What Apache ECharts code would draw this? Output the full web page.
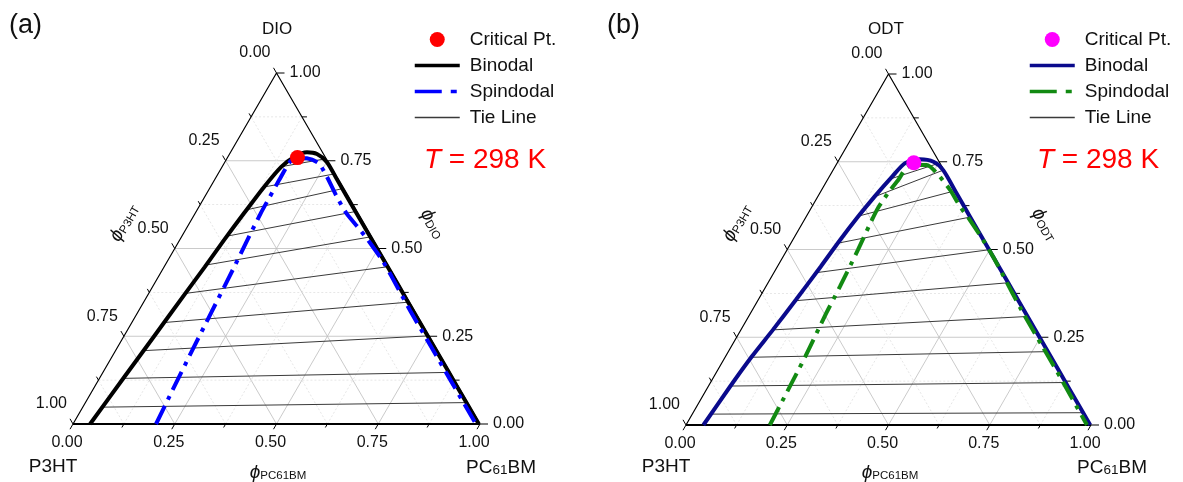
<!DOCTYPE html>
<html><head><meta charset="utf-8">
<script src="https://cdn.jsdelivr.net/npm/echarts@6/dist/echarts.min.js"></script>
<style>html,body{margin:0;padding:0;background:#fff}#c{width:1183px;height:482px}</style>
</head><body><div id="c"></div>
<script>
// ---------- axis ticks ----------
const axisTickValues = [0, 0.25, 0.5, 0.75, 1];
const axisTickLabels = ['0.00', '0.25', '0.50', '0.75', '1.00'];
const minorTickValues = [0.125, 0.375, 0.625, 0.875];

// ---------- panel (a): P3HT / PC61BM / DIO ----------  values are [phi_PC61BM, phi_DIO]
const aBinodalPC  = [0.042,0.059,0.074,0.090,0.100,0.109,0.120,0.131,0.145,0.163,0.188,0.215,0.251,0.300,0.397,0.497,0.597,0.697,0.797,0.897,0.997];
const aBinodalDIO = [0,    0.134,0.248,0.373,0.447,0.524,0.601,0.672,0.732,0.761,0.774,0.769,0.746,0.697,0.600,0.500,0.400,0.300,0.200,0.100,0];
const aSpinPC  = [0.204,0.197,0.188,0.181,0.173,0.167,0.161,0.160,0.159,0.159,0.167,0.196,0.232,0.271,0.324,0.372,0.429,0.473,0.526,0.573,0.665,0.765,0.865,0.990];
const aSpinDIO = [0,    0.088,0.211,0.316,0.439,0.516,0.601,0.644,0.695,0.744,0.758,0.757,0.743,0.705,0.648,0.600,0.553,0.515,0.467,0.420,0.325,0.225,0.125,0];
const aTieLeftPC   = [0.048,0.059,0.069,0.079,0.090,0.101,0.110,0.121,0.131,0.145];
const aTieLeftDIO  = [0.048,0.130,0.209,0.289,0.372,0.453,0.535,0.610,0.675,0.733];
const aTieRightPC  = [0.936,0.850,0.746,0.650,0.549,0.464,0.390,0.325,0.284,0.240];
const aTieRightDIO = [0.061,0.147,0.251,0.347,0.448,0.533,0.605,0.670,0.712,0.755];
const aCritical = [0.172, 0.759];

// ---------- panel (b): P3HT / PC61BM / ODT ----------  values are [phi_PC61BM, phi_ODT]
const bBinodalPC  = [0.043,0.054,0.065,0.079,0.093,0.107,0.117,0.128,0.140,0.155,0.168,0.199,0.236,0.272,0.338,0.398,0.498,0.598,0.698,0.798,0.898,0.998];
const bBinodalODT = [0,    0.109,0.195,0.271,0.356,0.451,0.527,0.593,0.650,0.707,0.746,0.757,0.750,0.726,0.660,0.600,0.500,0.400,0.300,0.200,0.100,0];
const bSpinPC  = [0.207,0.204,0.197,0.187,0.183,0.175,0.165,0.169,0.175,0.180,0.224,0.261,0.317,0.366,0.409,0.470,0.518,0.573,0.667,0.767,0.867,0.990];
const bSpinODT = [0,    0.062,0.195,0.318,0.394,0.499,0.613,0.665,0.698,0.736,0.741,0.717,0.670,0.622,0.584,0.527,0.480,0.423,0.325,0.225,0.125,0];
const bTieLeftPC   = [0.046,0.054,0.065,0.079,0.093,0.105,0.116,0.128,0.140,0.152];
const bTieLeftODT  = [0.031,0.111,0.193,0.271,0.354,0.434,0.518,0.595,0.650,0.700];
const bTieRightPC  = [0.960,0.874,0.786,0.686,0.590,0.497,0.404,0.330,0.272,0.250];
const bTieRightODT = [0.035,0.121,0.209,0.309,0.405,0.499,0.592,0.667,0.726,0.745];
const bCritical = [0.189, 0.747];

const FONT = '"Liberation Sans", Arial, Helvetica, sans-serif';

// ternary (phi_PC, phi_top) -> cartesian (x, y) in data space
const tern = (c, d) => [c + d / 2, d];
const curve = (cs, ds) => cs.map((c, i) => tern(c, ds[i]));

const tickData = axisTickValues.map(v => [v, 1]).concat(minorTickValues.map(v => [v, 0]));

function axesSeries(gi) {
  return {
    type: 'custom', xAxisIndex: gi, yAxisIndex: gi, silent: true, z: 1,
    clip: false, data: tickData,
    renderItem: function (params, api) {
      const v = api.value(0), major = api.value(1) === 1;
      const P = (c, d) => api.coord(tern(c, d));
      const ch = [];
      if (v > 0 && v < 1) {
        const st = major ? { stroke: '#bdbdbd', lineWidth: 0.8 }
                         : { stroke: '#e0e0e0', lineWidth: 0.8, lineDash: [2, 2] };
        [[P(0, v), P(1 - v, v)], [P(v, 0), P(v, 1 - v)], [P(1 - v, 0), P(0, 1 - v)]].forEach(s => {
          ch.push({ type: 'line', shape: { x1: s[0][0], y1: s[0][1], x2: s[1][0], y2: s[1][1] }, style: st });
        });
      }
      const len = major ? 6 : 4, rlen = major ? 8 : 5;
      const b = P(v, 0), r = P(1 - v, v), l = P(0, 1 - v);
      const tst = { stroke: '#000', lineWidth: 1 };
      ch.push({ type: 'line', shape: { x1: b[0], y1: b[1], x2: b[0] - 0.5 * len, y2: b[1] + 0.866 * len }, style: tst });
      ch.push({ type: 'line', shape: { x1: r[0], y1: r[1], x2: r[0] + rlen, y2: r[1] }, style: tst });
      ch.push({ type: 'line', shape: { x1: l[0], y1: l[1], x2: l[0] - 0.5 * len, y2: l[1] - 0.866 * len }, style: tst });
      if (major) {
        const txt = axisTickLabels[axisTickValues.indexOf(v)];
        const ts = (o) => Object.assign({ text: txt, fill: '#111', fontSize: 16, fontFamily: FONT, verticalAlign: 'middle' }, o);
        ch.push({ type: 'text', x: b[0] - 6, y: b[1] + 19, style: ts({ align: 'center' }) });
        ch.push({ type: 'text', x: r[0] + 13, y: r[1], style: ts({ align: 'left' }) });
        ch.push({ type: 'text', x: l[0] - 6, y: l[1] - 20, style: ts({ align: 'right' }) });
      }
      return { type: 'group', children: ch };
    }
  };
}

function frameSeries(gi) {
  return [
    { type: 'line', xAxisIndex: gi, yAxisIndex: gi, silent: true, z: 2, symbol: 'none',
      data: [tern(0, 0), tern(0, 1), tern(1, 0)], lineStyle: { color: '#000', width: 1.2 } },
    { type: 'line', xAxisIndex: gi, yAxisIndex: gi, silent: true, z: 2, symbol: 'none',
      data: [tern(0, 0), tern(1, 0)], lineStyle: { color: '#000', width: 2 } }
  ];
}

function panelSeries(gi, suffix, binC, binD, spC, spD, tlC, tlD, trC, trD, crit, colBin, colSp, colCrit) {
  const s = [axesSeries(gi)].concat(frameSeries(gi));
  tlC.forEach((c, i) => {
    s.push({ type: 'line', name: 'Tie Line' + suffix, xAxisIndex: gi, yAxisIndex: gi, z: 3, symbol: 'none', silent: true,
      data: [tern(c, tlD[i]), tern(trC[i], trD[i])], lineStyle: { color: '#3a3a3a', width: 1 }, itemStyle: { color: '#3a3a3a' } });
  });
  s.push({ type: 'line', name: 'Binodal' + suffix, xAxisIndex: gi, yAxisIndex: gi, z: 4, symbol: 'none', smooth: 0.25, silent: true,
    data: curve(binC, binD), lineStyle: { color: colBin, width: 4 }, itemStyle: { color: colBin } });
  s.push({ type: 'line', name: 'Spindodal' + suffix, xAxisIndex: gi, yAxisIndex: gi, z: 5, symbol: 'none', smooth: 0.25, silent: true,
    data: curve(spC, spD), lineStyle: { color: colSp, width: 4, type: [20, 7, 4, 7] }, itemStyle: { color: colSp } });
  s.push({ type: 'scatter', name: 'Critical Pt.' + suffix, xAxisIndex: gi, yAxisIndex: gi, z: 6, symbolSize: 15, silent: true,
    data: [tern(crit[0], crit[1])], itemStyle: { color: colCrit, opacity: 1 } });
  return s;
}

const series = [].concat(
  panelSeries(0, '', aBinodalPC, aBinodalDIO, aSpinPC, aSpinDIO, aTieLeftPC, aTieLeftDIO, aTieRightPC, aTieRightDIO, aCritical, '#000000', '#0000ff', '#ff0000'),
  panelSeries(1, '#b', bBinodalPC, bBinodalODT, bSpinPC, bSpinODT, bTieLeftPC, bTieLeftODT, bTieRightPC, bTieRightODT, bCritical, '#0a0a8c', '#128a12', '#ff00ff')
);

function legendFor(left, suffix) {
  const hideSym = { opacity: 0 };
  return {
    left: left, top: 30, padding: 0, orient: 'vertical', itemWidth: 45, itemHeight: 15, itemGap: 7,
    selectedMode: false,
    data: [
      { name: 'Critical Pt.' + suffix },
      { name: 'Binodal' + suffix, itemStyle: hideSym, lineStyle: { width: 3.5 } },
      { name: 'Spindodal' + suffix, itemStyle: hideSym, lineStyle: { width: 3.5, type: [27, 9, 6, 20] } },
      { name: 'Tie Line' + suffix, itemStyle: hideSym, lineStyle: { width: 1.6 } }
    ],
    formatter: n => n.split('#')[0],
    textStyle: { fontSize: 19, fontFamily: FONT, color: '#111', padding: [0, 0, 0, 5] }
  };
}

const txt = (x, y, text, size, extra) => ({ type: 'text', x: x, y: y, silent: true, z: 10,
  style: Object.assign({ text: text, fontSize: size, fontFamily: FONT, fill: '#111', align: 'center', verticalAlign: 'middle' }, extra || {}) });

const phiRich = { p: { fontSize: 19, fontStyle: 'italic', fontFamily: FONT, fill: '#111', lineHeight: 22, verticalAlign: 'bottom' },
                  s: { fontSize: 11.5, fontFamily: FONT, fill: '#111', lineHeight: 13, verticalAlign: 'bottom' } };
const pcRich = { n: { fontSize: 19, fontFamily: FONT, fill: '#111', lineHeight: 20, verticalAlign: 'bottom' },
                 m: { fontSize: 13.5, fontFamily: FONT, fill: '#111', lineHeight: 15, verticalAlign: 'bottom' } };
const tRich = { i: { fontSize: 28, fontStyle: 'italic', fontFamily: FONT, fill: '#ff0000' },
                r: { fontSize: 28, fontFamily: FONT, fill: '#ff0000' } };

const graphics = [
  txt(9, 26, '(a)', 27, { align: 'left' }),
  txt(607, 26, '(b)', 27, { align: 'left' }),
  txt(277, 29, 'DIO', 17),
  txt(886, 29, 'ODT', 17),
  txt(53, 467, 'P3HT', 19),
  txt(666, 467, 'P3HT', 19),
  txt(501, 467, '{n|PC}{m|61}{n|BM}', 19, { rich: pcRich }),
  txt(1112, 467, '{n|PC}{m|61}{n|BM}', 19, { rich: pcRich }),
  txt(278, 471, '{p|ϕ}{s|PC61BM}', 19, { rich: phiRich }),
  txt(890, 471, '{p|ϕ}{s|PC61BM}', 19, { rich: phiRich }),
  Object.assign(txt(123, 222, '{p|ϕ}{s|P3HT}', 19, { rich: phiRich }), { rotation: Math.PI / 3 }),
  Object.assign(txt(736, 222, '{p|ϕ}{s|P3HT}', 19, { rich: phiRich }), { rotation: Math.PI / 3 }),
  Object.assign(txt(434, 223, '{p|ϕ}{s|DIO}', 19, { rich: phiRich }), { rotation: -Math.PI / 3 }),
  Object.assign(txt(1046, 224, '{p|ϕ}{s|ODT}', 19, { rich: phiRich }), { rotation: -Math.PI / 3 }),
  txt(485, 160, '{i|T}{r| = 298 K}', 28, { rich: tRich, fill: '#ff0000' }),
  txt(1098, 160, '{i|T}{r| = 298 K}', 28, { rich: tRich, fill: '#ff0000' })
];

const axisCommon = { type: 'value', min: 0, max: 1, show: false };
const option = {
  backgroundColor: '#fff',
  animation: false,
  grid: [
    { left: 73, top: 73, width: 407, height: 351 },
    { left: 686, top: 74, width: 405, height: 351 }
  ],
  xAxis: [Object.assign({ gridIndex: 0 }, axisCommon), Object.assign({ gridIndex: 1 }, axisCommon)],
  yAxis: [Object.assign({ gridIndex: 0 }, axisCommon), Object.assign({ gridIndex: 1 }, axisCommon)],
  legend: [legendFor(413, ''), legendFor(1028, '#b')],
  graphic: graphics,
  series: series
};
const chart = echarts.init(document.getElementById('c'), null, { renderer: 'canvas' });
chart.setOption(option);
</script></body></html>
